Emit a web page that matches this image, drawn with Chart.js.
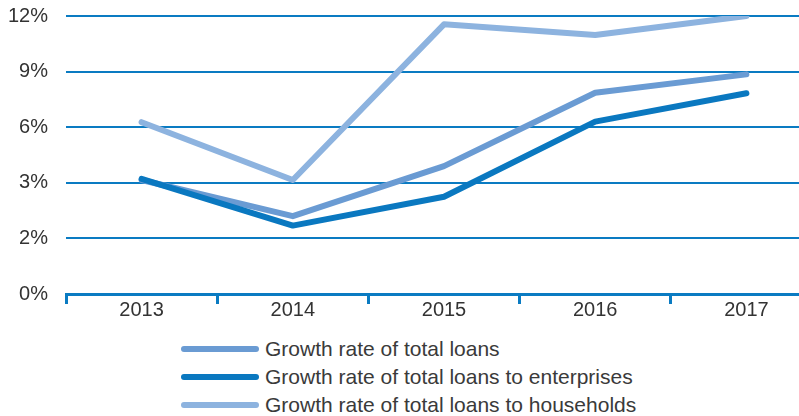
<!DOCTYPE html>
<html>
<head>
<meta charset="utf-8">
<script src="https://cdn.jsdelivr.net/npm/chart.js@4.4.1/dist/chart.umd.min.js"></script>
<style>
  html, body { margin: 0; padding: 0; background: #fff; overflow: hidden; }
  body { width: 799px; height: 416px; position: relative; font-family: "Liberation Sans", Arial, sans-serif; }
  /* plot runs past the right edge in the original, so the box is wider than the window */
  #wrap { position: absolute; left: 0; top: 0; width: 822px; height: 324px; }
  #legend { position: absolute; left: 181px; top: 335px; margin: 0; padding: 0; list-style: none; }
  #legend li { height: 28px; display: flex; align-items: center; font-size: 21px; color: #3a3a3a; }
  #legend li span { display: inline-block; width: 78px; height: 6px; border-radius: 3px; margin-right: 6px; }
</style>
</head>
<body>
<div id="wrap"><canvas id="grafico"></canvas></div>
<ul id="legend"></ul>
<script>
// anos no eixo x
const anos = ['2013', '2014', '2015', '2016', '2017'];
// o eixo y do original tem espaçamento igual, mas rótulos irregulares
const rotulosY = ['0%', '2%', '3%', '6%', '9%', '12%'];

const totalEmprestimos = [2.05, 1.40, 2.30, 3.62, 3.95];
const empresas = [2.07, 1.23, 1.75, 3.10, 3.61];
const familias = [3.09, 2.05, 4.85, 4.66, 5.00];

const azulGrade = '#0a7bc2';

const ctx = document.getElementById('grafico').getContext('2d');
const grafico = new Chart(ctx, {
    type: 'line',
    data: {
        labels: anos,
        datasets: [
            { label: 'Growth rate of total loans', data: totalEmprestimos, borderColor: '#6a9bd3', order: 1 },
            { label: 'Growth rate of total loans to enterprises', data: empresas, borderColor: '#0a78c0', order: 0 },
            { label: 'Growth rate of total loans to households', data: familias, borderColor: '#8db3df', order: 2 }
        ]
    },
    options: {
        responsive: true,
        maintainAspectRatio: false,
        animation: false,
        layout: { autoPadding: false, padding: { top: 16, left: 0, right: 0, bottom: 4 } },
        elements: {
            line: { borderWidth: 6, tension: 0, borderCapStyle: 'round', borderJoinStyle: 'round' },
            point: { radius: 0, hoverRadius: 0 }
        },
        plugins: {
            legend: { display: false },
            tooltip: { enabled: false }
        },
        scales: {
            x: {
                offset: true,
                grid: {
                    offset: true,
                    drawOnChartArea: false,
                    drawTicks: true,
                    tickLength: 10,
                    color: azulGrade,
                    lineWidth: 3
                },
                border: { display: true, color: azulGrade, width: 3 },
                ticks: {
                    padding: -6,
                    color: '#333',
                    font: { family: '"Liberation Sans", Arial, sans-serif', size: 20 }
                }
            },
            y: {
                min: 0,
                max: 5,
                afterFit: (escala) => { escala.width = 66; escala.paddingTop = 0; },
                grid: { color: azulGrade, lineWidth: 2, drawTicks: false },
                border: { display: false },
                ticks: {
                    stepSize: 1,
                    padding: 18,
                    color: '#333',
                    font: { family: '"Liberation Sans", Arial, sans-serif', size: 20 },
                    callback: (v) => rotulosY[v]
                }
            }
        }
    }
});

// legenda em HTML, montada a partir dos datasets
const ul = document.getElementById('legend');
grafico.data.datasets.forEach(ds => {
    const li = document.createElement('li');
    const linha = document.createElement('span');
    linha.style.background = ds.borderColor;
    li.appendChild(linha);
    li.appendChild(document.createTextNode(ds.label));
    ul.appendChild(li);
});
</script>
</body>
</html>
